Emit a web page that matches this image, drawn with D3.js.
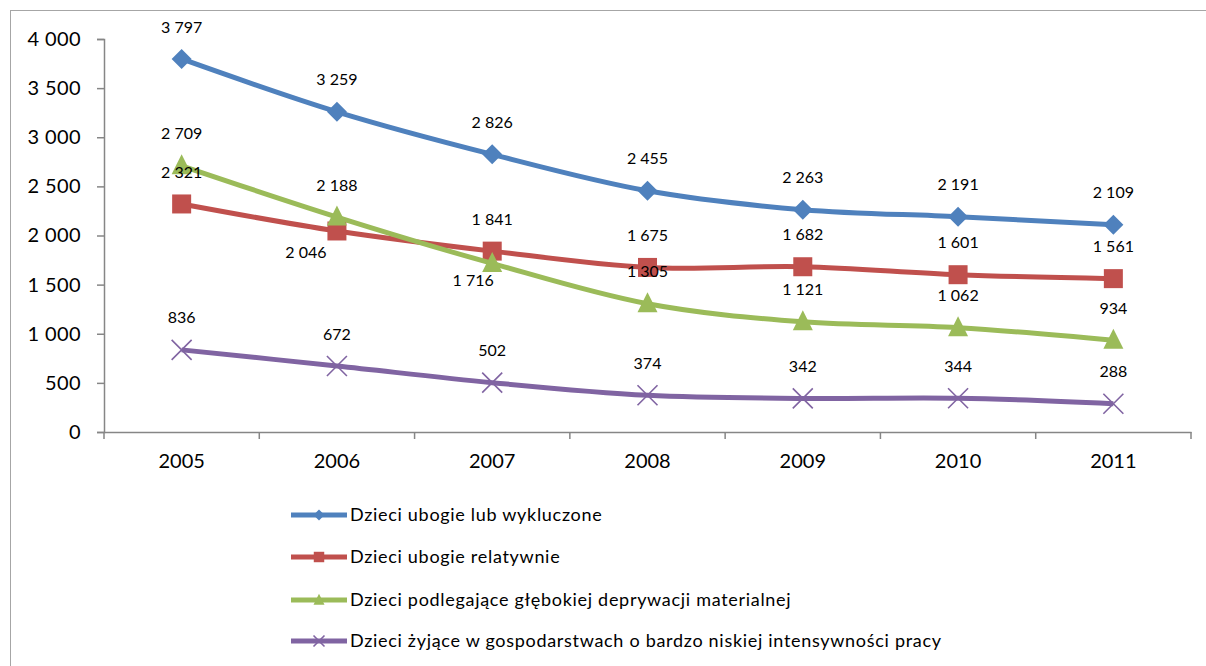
<!DOCTYPE html>
<html><head><meta charset="utf-8">
<script src="https://cdn.jsdelivr.net/npm/d3@7"></script>
<style>
html,body{margin:0;padding:0;background:#fff;}
svg{display:block;font-family:Lato,"Open Sans",sans-serif;}
</style></head>
<body>
<svg id="chart" width="1206" height="666"></svg>
<script>
const years = ["2005","2006","2007","2008","2009","2010","2011"];
const seriesNames = [
  "Dzieci ubogie lub wykluczone",
  "Dzieci ubogie relatywnie",
  "Dzieci podlegające głębokiej deprywacji materialnej",
  "Dzieci żyjące w gospodarstwach o bardzo niskiej intensywności pracy"
];
const blueValues = [3797, 3259, 2826, 2455, 2263, 2191, 2109];
const redValues = [2321, 2046, 1841, 1675, 1682, 1601, 1561];
const greenValues = [2709, 2188, 1716, 1305, 1121, 1062, 934];
const purpleValues = [836, 672, 502, 374, 342, 344, 288];
const yTicks = [0, 500, 1000, 1500, 2000, 2500, 3000, 3500, 4000];
const colors = ["#4F81BD", "#C0504D", "#9BBB59", "#8064A2"];
const markers = ["diamond", "square", "triangle", "cross"];
// label placement per series: "a" = above, "bl"/"bl2" = below-left
const labelPlace = [
  ["a","a","a","a","a","a","a"],
  ["a","bl","a","a","a","a","a"],
  ["a","a","bl2","a","a","a","a"],
  ["a","a","a","a","a","a","a"]
];
const allValues = [blueValues, redValues, greenValues, purpleValues];

const svg = d3.select("#chart");
const fmt = v => d3.format(",")(v).replace(/,/g, " ");

// outer chart border
svg.append("rect").attr("x",10.5).attr("y",10.5).attr("width",1210).attr("height",670)
  .attr("fill","none").attr("stroke","#a6a6a6").attr("stroke-width",1);

const x = d3.scaleBand().domain(years).range([104, 1191]);
const y = d3.scaleLinear().domain([0, 4000]).range([432, 39]);

const axisColor = "#868686";
// y axis
const yAxis = svg.append("g").attr("transform","translate(104,0)")
  .call(d3.axisLeft(y).tickValues(yTicks).tickSize(7).tickPadding(16).tickFormat(fmt));
yAxis.select(".domain").attr("stroke",axisColor).attr("stroke-width",1.5);
yAxis.selectAll(".tick line").attr("stroke",axisColor).attr("stroke-width",1.5);
yAxis.selectAll("text").attr("font-size","20px").attr("fill","#000").attr("font-family","Lato,sans-serif")
  .attr("letter-spacing","0.4px");

// x axis
const xAxis = svg.append("g").attr("transform","translate(0,432)")
  .call(d3.axisBottom(x).tickSize(0).tickPadding(22));
xAxis.select(".domain").attr("stroke",axisColor).attr("stroke-width",1.5);
xAxis.selectAll("text").attr("font-size","20px").attr("fill","#000").attr("font-family","Lato,sans-serif");
// category boundary ticks
const bounds = years.map(d => x(d)).concat([x.range()[1]]);
svg.append("g").selectAll("line").data(bounds).join("line")
  .attr("x1",d=>d).attr("x2",d=>d).attr("y1",432).attr("y2",439)
  .attr("stroke",axisColor).attr("stroke-width",1.5);

const cx = d => x(d) + x.bandwidth()/2;
const line = d3.line().x((d,i)=>cx(years[i])).y(d=>y(d)).curve(d3.curveCardinal);

function drawMarker(g, type, px, py, color, s) {
  if (type === "diamond") {
    g.append("path").attr("d", `M${px},${py-s}L${px+s},${py}L${px},${py+s}L${px-s},${py}Z`).attr("fill",color);
  } else if (type === "square") {
    g.append("rect").attr("x",px-s*0.95).attr("y",py-s*0.95).attr("width",s*1.9).attr("height",s*1.9).attr("fill",color);
  } else if (type === "triangle") {
    g.append("path").attr("d", `M${px},${py-s*1.15}L${px+s},${py+s*0.85}L${px-s},${py+s*0.85}Z`).attr("fill",color);
  } else {
    g.append("path").attr("d", `M${px-s},${py-s}L${px+s},${py+s}M${px-s},${py+s}L${px+s},${py-s}`)
      .attr("stroke",color).attr("stroke-width",1.6).attr("fill","none");
  }
}

allValues.forEach((vals, si) => {
  const g = svg.append("g");
  g.append("path").datum(vals).attr("d", line).attr("fill","none")
    .attr("stroke", colors[si]).attr("stroke-width",5).attr("stroke-linejoin","round");
  vals.forEach((v,i) => drawMarker(g, markers[si], cx(years[i]), y(v), colors[si], 10));
});

// data labels
allValues.forEach((vals, si) => {
  vals.forEach((v,i) => {
    let px = cx(years[i]), py = y(v) - 32;
    const p = labelPlace[si][i];
    if (p === "bl") { px -= 31; py = y(v) + 21; }
    if (p === "bl2") { px -= 19; py = y(v) + 17; }
    svg.append("text").attr("x",px).attr("y",py).attr("dy","0.35em")
      .attr("text-anchor","middle").attr("font-size","16px").attr("fill","#000")
      .text(fmt(v));
  });
});

// legend
const legendY = [515, 557, 600, 641];
seriesNames.forEach((name, si) => {
  const g = svg.append("g");
  const ly = legendY[si];
  g.append("line").attr("x1",291).attr("x2",347).attr("y1",ly).attr("y2",ly)
    .attr("stroke",colors[si]).attr("stroke-width",5);
  drawMarker(g, markers[si], 319, ly, colors[si], 5.5);
  g.append("text").attr("x",350).attr("y",ly).attr("dy","0.35em")
    .attr("font-size","18px").attr("letter-spacing","0.7px").attr("fill","#000").text(name);
});
</script>
</body></html>
